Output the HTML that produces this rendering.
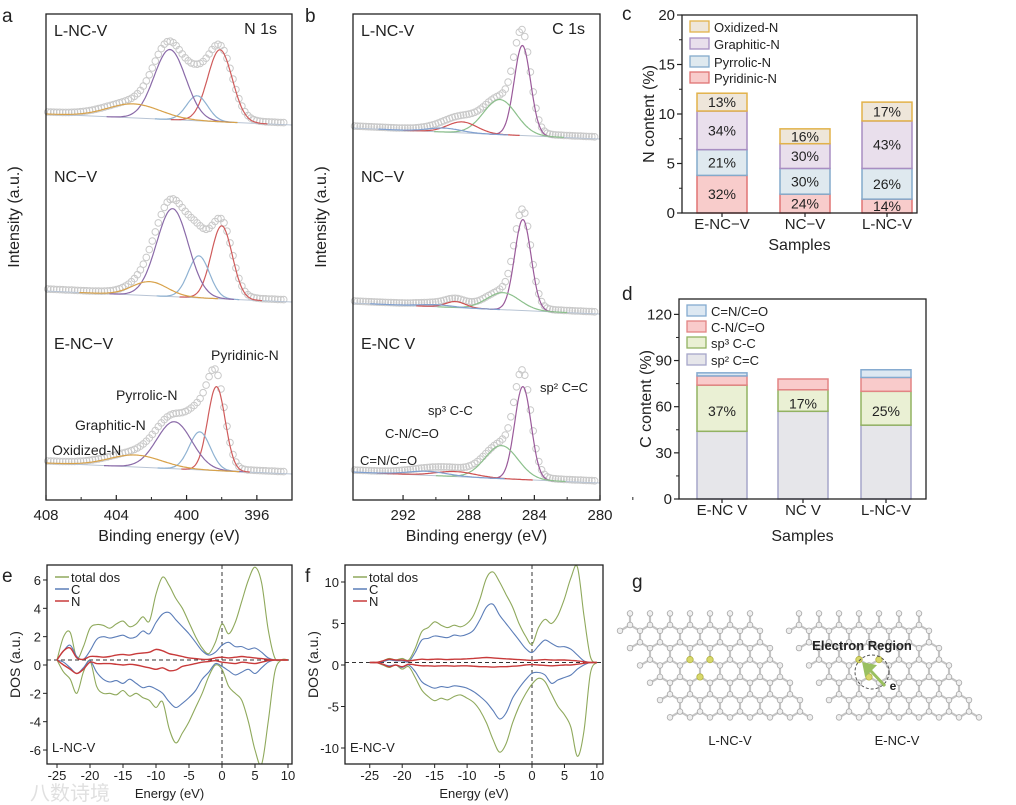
<!DOCTYPE html>
<html><head><meta charset="utf-8"><style>
html,body{margin:0;padding:0;background:#fff;}
svg{display:block;font-family:"Liberation Sans","Noto Sans CJK SC",sans-serif;}
</style></head><body>
<svg id="fig" width="1016" height="805" viewBox="0 0 1016 805" xmlns="http://www.w3.org/2000/svg"></svg>
<script>
// ---------- data: XPS N 1s ----------
const nSamples = ['L-NC-V','NC-V','E-NC-V'];
const nComponents = ['Pyridinic-N','Pyrrolic-N','Graphitic-N','Oxidized-N'];
const nCenters = [[398.1,399.4,400.95,403.0],[398.0,399.3,400.8,402.1],[398.3,399.25,400.7,402.9]];
const nHeights = [[72,25,70,14],[73,42,88,14],[84,38,47,12]];
const nWidths  = [[0.7,0.6,0.9,1.5],[0.6,0.6,0.9,1.0],[0.5,0.6,1.0,1.5]];
const nOffsets = [369,192,20];
// ---------- data: XPS C 1s ----------
const cComponents = ['sp2 C=C','sp3 C-C','C-N/C=O','C=N/C=O'];
const cCenters = [[284.73,286.1,288.4,289.5],[284.7,285.9,288.8,290.0],[284.7,286.0,288.8,290.5]];
const cHeights = [[90,35,11,4],[91,17,6,2],[93,33,5,4]];
const cWidths  = [[0.5,1.0,0.9,1.0],[0.5,1.0,0.6,1.0],[0.5,1.0,1.2,1.2]];
const cOffsets = [355,180,11];
// ---------- data: bar chart c ----------
const barSamples = ['E-NC−V','NC−V','L-NC-V'];
const nPyridinic = [3.8,1.9,1.4];
const nPyrrolic  = [2.6,2.6,3.1];
const nGraphitic = [3.9,2.5,4.8];
const nOxidized  = [1.8,1.5,1.9];
const nPctLabels = [['32%','21%','34%','13%'],['24%','30%','30%','16%'],['14%','26%','43%','17%']];
const nTicks = [0,5,10,15,20];
// ---------- data: bar chart d ----------
const barSamplesD = ['E-NC  V','NC  V','L-NC-V'];
const cSp2 = [44,57,48];
const cSp3 = [30,14,22];
const cCN  = [6,7,9];
const cCNd = [2,0,5];
const cPctLabels = ['37%','17%','25%'];
const cTicks = [0,30,60,90,120];
// ---------- data: DOS ----------
const dosEnergy = [-25,-24,-23,-22,-21,-20,-19,-18,-17,-16,-15,-14,-13,-12,-11,-10,-9,-8,-7,-6,-5,-4,-3,-2,-1,0,1,2,3,4,5,6,7,8,9,10];
const eTotUp = [0.35,2.0,2.3,0.5,1.3,2.6,2.85,2.8,2.6,2.9,3.1,2.7,2.9,3.4,3.1,5.0,6.2,5.6,4.7,4.0,3.0,2.0,1.2,0.8,1.6,2.9,2.2,3.0,4.5,6.0,6.9,5.8,2.5,0.5,0.35,0.35];
const eTotDn = [0.35,-0.5,-1.0,-2.0,-0.5,0.3,-1.5,-2.0,-2.0,-2.1,-1.8,-2.2,-2.0,-2.3,-2.5,-3.0,-2.6,-4.5,-5.5,-4.8,-4.0,-3.0,-2.0,-0.8,0.0,-0.3,-1.5,-2.0,-2.5,-4.0,-6.0,-7.0,-4.0,-0.5,0.35,0.35];
const eCUp = [0.35,1.0,1.4,0.6,0.4,1.0,1.8,2.0,1.9,2.0,2.1,1.9,2.0,2.4,2.2,3.0,3.6,3.7,3.2,2.7,2.2,1.6,1.0,0.7,0.9,1.4,1.6,1.3,1.3,1.1,1.2,0.9,0.5,0.35,0.35,0.35];
const eCDn = [0.35,0.2,-0.2,-0.6,-0.2,0.3,-0.5,-1.0,-1.2,-1.1,-1.3,-1.0,-1.3,-1.6,-1.5,-1.7,-2.0,-2.6,-3.0,-2.7,-2.3,-1.8,-1.0,-0.5,0.1,-0.1,-0.4,-0.7,-0.5,-0.3,-0.6,-0.2,0.2,0.35,0.35,0.35];
const eNUp = [0.35,1.0,1.2,0.5,0.4,0.6,0.6,0.55,0.6,0.7,0.75,0.7,0.8,0.85,0.9,1.1,1.0,0.8,0.7,0.6,0.5,0.45,0.4,0.4,0.5,0.55,0.5,0.55,0.6,0.55,0.5,0.45,0.4,0.35,0.35,0.35];
const eNDn = [0.35,0.0,-0.3,-0.6,-0.3,0.2,0.1,0.1,0.1,0.05,0.0,0.05,0.0,-0.1,-0.2,-0.3,-0.2,-0.4,-0.35,-0.1,0.0,0.1,0.2,0.25,0.3,0.2,0.15,0.1,0.2,0.15,0.1,0.2,0.3,0.35,0.35,0.35];
const fTotUp = [0.3,0.3,0.5,0.8,0.6,0.8,0.6,2.0,4.0,4.5,5.2,4.8,4.5,4.8,4.6,5.0,6.0,8.0,10.5,11.2,10.0,8.5,7.0,5.0,3.5,2.5,4.5,5.5,5.0,6.0,8.0,10.5,11.8,6.0,1.0,0.3];
const fTotDn = [0.3,0.3,0.0,-0.3,0.0,-0.5,-0.2,-1.5,-3.0,-3.8,-4.3,-4.0,-4.2,-3.8,-3.6,-4.0,-4.5,-5.5,-7.0,-9.0,-10.5,-9.5,-7.0,-5.0,-3.5,-2.3,-1.6,-2.0,-3.5,-5.0,-6.0,-7.5,-11.0,-8.0,-1.0,0.3];
const fCUp = [0.3,0.3,0.4,0.6,0.5,0.5,0.4,1.5,3.0,3.2,3.5,3.4,3.3,3.6,3.5,3.7,4.2,5.5,7.0,7.3,6.0,5.0,4.0,3.0,2.0,1.5,2.3,3.0,2.6,2.2,2.2,1.9,1.2,0.5,0.3,0.3];
const fCDn = [0.3,0.3,0.1,-0.1,0.0,-0.3,0.0,-0.8,-2.0,-2.5,-2.8,-2.6,-2.7,-2.5,-2.6,-2.8,-3.2,-3.8,-4.5,-5.5,-6.5,-5.8,-4.0,-2.8,-1.8,-1.0,-0.9,-1.2,-2.2,-1.8,-1.5,-1.2,-0.5,0.0,0.3,0.3];
const fNUp = [0.3,0.3,0.5,0.7,0.6,0.6,0.5,0.6,0.7,0.65,0.7,0.7,0.65,0.7,0.7,0.75,0.8,0.85,0.9,0.85,0.8,0.75,0.7,0.65,0.6,0.55,0.6,0.65,0.6,0.6,0.6,0.55,0.5,0.4,0.3,0.3];
const fNDn = [0.3,0.3,0.1,-0.2,0.0,-0.2,0.1,0.0,-0.1,-0.1,-0.15,-0.1,-0.1,-0.15,-0.1,-0.1,-0.15,-0.2,-0.2,-0.25,-0.2,-0.2,-0.15,-0.1,0.0,0.05,0.0,-0.05,-0.1,-0.05,0.0,0.0,0.1,0.2,0.3,0.3];

const NS='http://www.w3.org/2000/svg';
const svg=document.getElementById('fig');
function mk(tag,attrs,parent){const e=document.createElementNS(NS,tag);for(const k in attrs)e.setAttribute(k,attrs[k]);(parent||svg).appendChild(e);return e;}
function txt(x,y,s,size,anchor,parent,extra){const t=mk('text',Object.assign({x:x,y:y,'font-size':size,'text-anchor':anchor||'start',fill:'#222'},extra||{}),parent);t.textContent=s;return t;}
function smooth(pts){let d='M'+pts[0][0].toFixed(1)+','+pts[0][1].toFixed(1);for(let i=0;i<pts.length-1;i++){const p0=pts[i-1]||pts[i],p1=pts[i],p2=pts[i+1],p3=pts[i+2]||p2;const c1x=p1[0]+(p2[0]-p0[0])/6,c1y=p1[1]+(p2[1]-p0[1])/6,c2x=p2[0]-(p3[0]-p1[0])/6,c2y=p2[1]-(p3[1]-p1[1])/6;d+='C'+c1x.toFixed(1)+','+c1y.toFixed(1)+' '+c2x.toFixed(1)+','+c2y.toFixed(1)+' '+p2[0].toFixed(1)+','+p2[1].toFixed(1);}return d;}
function gauss(x,c,h,s){return h*Math.exp(-(x-c)*(x-c)/(2*s*s));}

[['a',2,22],['b',305,22],['c',622,20],['d',622,300],['e',2,582],['f',305,582],['g',632,588]].forEach(function(p){
  const t=txt(p[1],p[2],p[0],19,'start');
  
  
});

function xpsPanel(name,left,right,top,bottom,xMax,xMin,ticks,centers,heights,widths,offsets,colors,samples,corner){
  const g=mk('g',{});
  
  
  const X=v=>left+(xMax-v)/(xMax-xMin)*(right-left);
  const Y=v=>490-v;
  for(let s=0;s<samples.length;s++){
    const bgL=offsets[s]+7,bgR=offsets[s]-4;
    const bg=x=>bgL+(bgR-bgL)*(xMax-x)/(xMax-xMin);
    const dg=mk('g',{},g);
    
    
    for(let x=xMax-0.1;x>xMin+0.3;x-=0.17){
      let v=bg(x);for(let k=0;k<4;k++)v+=gauss(x,centers[s][k],heights[s][k],widths[s][k]);
      mk('circle',{cx:X(x).toFixed(1),cy:(Y(v)-2).toFixed(1),r:3.3,fill:'none',stroke:'#c9c9c9','stroke-width':1},dg);
    }
    const bl=mk('line',{x1:left,y1:Y(bg(xMax)),x2:right,y2:Y(bg(xMin)),stroke:'#b8c4d4','stroke-width':1},g);
    
    
    for(let k=0;k<4;k++){
      const pts=[];
      for(let x=centers[s][k]+4*widths[s][k];x>=centers[s][k]-4*widths[s][k];x-=0.1){
        if(x>xMax||x<xMin)continue;
        pts.push([X(x),Y(bg(x)+gauss(x,centers[s][k],heights[s][k],widths[s][k]))]);
      }
      const p=mk('path',{d:smooth(pts),fill:'none',stroke:colors[k],'stroke-width':1.2},g);
      
      
    }
  }
  const fr=mk('rect',{x:left,y:top,width:right-left,height:bottom-top,fill:'none',stroke:'#222','stroke-width':1.3},g);
  
  
  ticks.forEach(function(t){
    mk('line',{x1:X(t),y1:bottom,x2:X(t),y2:bottom-5,stroke:'#222','stroke-width':1.2},g);
    mk('line',{x1:X(t-2),y1:bottom,x2:X(t-2),y2:bottom-3,stroke:'#222','stroke-width':1},g);
    const l=txt(X(t),bottom+20,String(t),15,'middle',g);
    
    
  });
  const xt=txt((left+right)/2,bottom+41,'Binding energy (eV)',16,'middle',g);
  
  
  const yt=txt(0,0,'Intensity (a.u.)',16,'middle',g,{transform:'translate('+(left-27)+',217) rotate(-90)'});
  
  
  const c1=txt(left+8,36,'L-NC-V',16,'start',g);
  
  
  const c2=txt(left+8,182,'NC−V',16,'start',g);
  
  
  const c3=txt(left+8,349,name==='c1s-panel'?'E-NC  V':'E-NC−V',16,'start',g);
  
  
  const cr=txt(right-15,34,corner,16,'end',g);
  
  
  return g;
}
const ga=xpsPanel('n1s-panel',46,292,14,500,408,394,[408,404,400,396],nCenters,nHeights,nWidths,nOffsets,['#cf5b5b','#8fb2d2','#8a6aa8','#d8a24a'],nSamples,'N 1s');
[['Pyridinic-N',211,360],['Pyrrolic-N',116,400],['Graphitic-N',75,430],['Oxidized-N',52,455]].forEach(function(p){
  const t=txt(p[1],p[2],p[0],14,'start',ga);
  
  
});
const gb=xpsPanel('c1s-panel',353,600,14,500,295.05,280,[292,288,284,280],cCenters,cHeights,cWidths,cOffsets,['#9a5a9a','#8cc08c','#cf5050','#80a0d0'],nSamples,'C 1s');
[['sp² C=C',540,392],['sp³ C-C',428,415],['C-N/C=O',385,438],['C=N/C=O',360,465]].forEach(function(p){
  const t=txt(p[1],p[2],p[0],13,'start',gb);
  
  
});

function barPanel(name,left,right,top,bottom,yMax,ticks,samples,centersX,series,fills,strokes,yTitle,legend,legendY,xlabelY,titleY){
  const g=mk('g',{});
  
  
  const Y=v=>bottom-v/yMax*(bottom-top);
  for(let i=0;i<samples.length;i++){
    let acc=0;
    for(let k=0;k<series.length;k++){
      const v=series[k][i];
      if(v<=0)continue;
      const r=mk('rect',{x:centersX[i]-25,y:Y(acc+v),width:50,height:Y(acc)-Y(acc+v),fill:fills[k],stroke:strokes[k],'stroke-width':1.5},g);
      
      
      acc+=v;
    }
  }
  const fr=mk('rect',{x:left,y:top,width:right-left,height:bottom-top,fill:'none',stroke:'#222','stroke-width':1.3},g);
  
  
  ticks.forEach(function(t,i){
    mk('line',{x1:left,y1:Y(t),x2:left-5,y2:Y(t),stroke:'#222','stroke-width':1.2},g);
    if(i<ticks.length-1)mk('line',{x1:left,y1:Y((t+ticks[i+1])/2),x2:left-3,y2:Y((t+ticks[i+1])/2),stroke:'#222','stroke-width':1},g);
    const l=txt(left-7,Y(t)+5,String(t),15,'end',g);
    
    
  });
  for(let i=0;i<samples.length;i++){
    mk('line',{x1:centersX[i],y1:bottom,x2:centersX[i],y2:bottom+4,stroke:'#222','stroke-width':1.2},g);
    const l=txt(centersX[i],xlabelY,samples[i],15,'middle',g);
    
    
  }
  const xt=txt((left+right)/2,titleY,'Samples',16,'middle',g);
  
  
  const yt=txt(0,0,yTitle,16,'middle',g,{transform:'translate('+(left-28)+','+((top+bottom)/2)+') rotate(-90)'});
  
  
  legend.forEach(function(l,j){
    const k=l[1];
    const it=mk('g',{},g);
    
    
    mk('rect',{x:left+8,y:legendY[j]-6,width:19,height:11,fill:fills[k],stroke:strokes[k],'stroke-width':1.3},it);
    txt(left+32,legendY[j]+5,l[0],13,'start',it);
  });
  return {g:g,Y:Y};
}
const pc=barPanel('n-content-chart',682,917,15,213,20,nTicks,barSamples,[722,805,887],[nPyridinic,nPyrrolic,nGraphitic,nOxidized],['#f8cccb','#dfe9ef','#e9dfec','#eee6da'],['#e07474','#84aacb','#a88ec2','#e2b24a'],'N content (%)',[['Oxidized-N',3],['Graphitic-N',2],['Pyrrolic-N',1],['Pyridinic-N',0]],[27,44,62,78],229,250);
for(let i=0;i<3;i++){
  let acc=0;const ser=[nPyridinic,nPyrrolic,nGraphitic,nOxidized];
  for(let k=0;k<4;k++){
    const v=ser[k][i];
    const t=txt([722,805,887][i],pc.Y(acc+v/2)+5,nPctLabels[i][k],14,'middle',pc.g);
    
    
    acc+=v;
  }
}
const pd=barPanel('c-content-chart',679,926,299,499,130,cTicks,barSamplesD,[722,803,886],[cSp2,cSp3,cCN,cCNd],['#e6e6ea','#eaf0d4','#f9cbcb','#dde8f2'],['#a6a6ca','#92b262','#e28484','#84aad0'],'C content (%)',[['C=N/C=O',3],['C-N/C=O',2],['sp³ C-C',1],['sp² C=C',0]],[311,327,343,360],515,541);
for(let i=0;i<3;i++){
  const t=txt([722,803,886][i],pd.Y(cSp2[i]+cSp3[i]/2)+8,cPctLabels[i],14,'middle',pd.g);
  
  
}

function dosPanel(name,left,right,top,bottom,x0px,xPer,y0px,yPer,yTicks,xTicks,series,tag,zeroLine){
  const g=mk('g',{});
  
  
  const X=v=>x0px+v*xPer, Y=v=>y0px-v*yPer;
  const cp=mk('clipPath',{id:'clip-'+name},g);
  mk('rect',{x:left,y:top,width:right-left,height:bottom-top},cp);
  const inner=mk('g',{'clip-path':'url(#clip-'+name+')'},g);
  mk('line',{x1:X(0),y1:top,x2:X(0),y2:bottom,stroke:'#333','stroke-width':1,'stroke-dasharray':'4,3'},inner);
  mk('line',{x1:left,y1:Y(zeroLine),x2:right,y2:Y(zeroLine),stroke:'#333','stroke-width':1,'stroke-dasharray':'4,3'},inner);
  const cols=['#8fa95c','#8fa95c','#5b7db8','#5b7db8','#c83a3a','#c83a3a'];
  const names=['total-dos-up','total-dos-down','c-dos-up','c-dos-down','n-dos-up','n-dos-down'];
  series.forEach(function(arr,k){
    const pts=dosEnergy.map((e,i)=>[X(e),Y(arr[i])]);
    const p=mk('path',{d:smooth(pts),fill:'none',stroke:cols[k],'stroke-width':k>=4?1.4:1.1},inner);
    
    
  });
  const fr=mk('rect',{x:left,y:top,width:right-left,height:bottom-top,fill:'none',stroke:'#222','stroke-width':1.3},g);
  
  
  yTicks.forEach(function(t){
    mk('line',{x1:left,y1:Y(t),x2:left-4,y2:Y(t),stroke:'#222'},g);
    const l=txt(left-6,Y(t)+5,String(t),13,'end',g);
    
    
  });
  xTicks.forEach(function(t){
    mk('line',{x1:X(t),y1:bottom,x2:X(t),y2:bottom+4,stroke:'#222'},g);
    const l=txt(X(t),bottom+16,String(t),13,'middle',g);
    
    
  });
  const xt=txt((left+right)/2,bottom+34,'Energy (eV)',13,'middle',g);
  
  
  const yt=txt(0,0,'DOS (a.u.)',14,'middle',g,{transform:'translate('+(left-27)+','+((top+bottom)/2)+') rotate(-90)'});
  
  
  [['total dos','#8fa95c'],['C','#5b7db8'],['N','#c83a3a']].forEach(function(l,j){
    const it=mk('g',{},g);
    
    
    mk('line',{x1:left+8,y1:top+12+j*12,x2:left+22,y2:top+12+j*12,stroke:l[1],'stroke-width':1.5},it);
    txt(left+24,top+17+j*12,l[0],13,'start',it);
  });
  const tg=txt(left+5,bottom-12,tag,13,'start',g);
  
  
}
dosPanel('dos-l-nc-v',47,292,565,764,222,6.6,665,14.17,[6,4,2,0,-2,-4,-6],[-25,-20,-15,-10,-5,0,5,10],[eTotUp,eTotDn,eCUp,eCDn,eNUp,eNDn],'L-NC-V',0.35);
dosPanel('dos-e-nc-v',345,603,565,764,532,6.49,665,8.3,[10,5,0,-5,-10],[-25,-20,-15,-10,-5,0,5,10],[fTotUp,fTotDn,fCUp,fCDn,fNUp,fNDn],'E-NC-V',0.3);

const wm=txt(30,800,'八数诗境',20,'start',svg,{fill:'#e0e0e0'});



function lattice(name,ox,oy,yellow){
  const g=mk('g',{});
  
  
  const a=20,h=a*Math.sqrt(3)/2,NI=7,NJ=6;
  const A=(i,j)=>[ox+i*a+j*a/2,oy+j*h];
  const B=(i,j)=>[ox+i*a+j*a/2+a/2,oy+j*h+a/(2*Math.sqrt(3))];
  const atoms=[];
  for(let j=0;j<NJ;j++)for(let i=0;i<NI;i++){
    const pa=A(i,j),pb=B(i,j);
    [B(i,j),B(i-1,j),B(i,j-1)].forEach(function(p){
      mk('line',{x1:pa[0],y1:pa[1],x2:p[0],y2:p[1],stroke:'#c4c4c4','stroke-width':2.2},g);
    });
    atoms.push(pa);atoms.push(pb);
  }
  // edge terminations
  for(let i=0;i<NI;i++){const b=B(i,-1);atoms.push(b);}
  for(let j=0;j<NJ;j++){const b=B(-1,j);atoms.push(b);}
  atoms.forEach(function(p,idx){
    const y=yellow.indexOf(idx)>=0;
    mk('circle',{cx:p[0],cy:p[1],r:y?3.2:2.8,fill:y?'#d8d86a':'#efefef',stroke:y?'#b0b040':'#a8a8a8','stroke-width':0.8},g);
  });
  return g;
}
const la=lattice('structure-l-nc-v',630,625,[32,34,46]);
const lb=lattice('structure-e-nc-v',799,625,[32,34,46]);
const t1=txt(730,745,'L-NC-V',13,'middle');


const t2=txt(897,745,'E-NC-V',13,'middle');


const er=txt(862,650,'Electron Region',13,'middle',svg,{'font-weight':'bold'});


const circ=mk('circle',{cx:872,cy:672,r:17,fill:'none',stroke:'#555','stroke-width':1,'stroke-dasharray':'3,2'});


const arr=mk('path',{d:'M885,686 L870,670 M864,664 L874,666 L866,674 Z',stroke:'#9ac060','stroke-width':3,fill:'#9ac060'});


const el=txt(893,690,'e',12,'middle',svg,{'font-weight':'bold'});


</script>
</body></html>
